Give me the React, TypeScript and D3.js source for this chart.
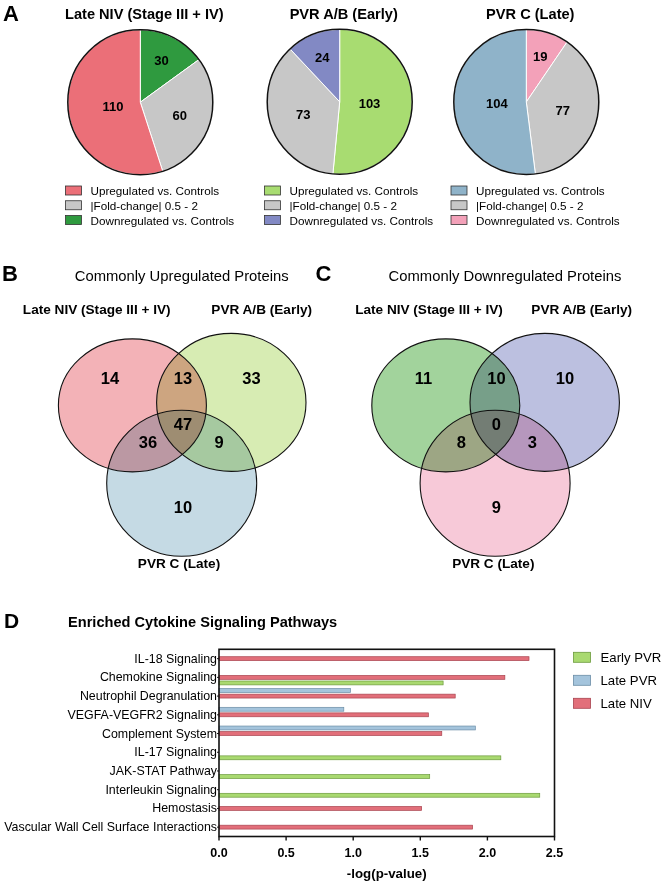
import React from 'react';
import * as d3 from 'd3';

// ---- Panel A: pie charts ----
const pieCategories = ['Upregulated vs. Controls', '|Fold-change| 0.5 - 2', 'Downregulated vs. Controls'];
const pieTitles = ['Late NIV (Stage III + IV)', 'PVR A/B (Early)', 'PVR C (Late)'];
const lateNivCounts = [110, 60, 30];
const earlyPvrCounts = [103, 73, 24];
const latePvrCounts = [104, 77, 19];

// ---- Panels B / C: Venn diagrams ----
const vennSets = ['Late NIV (Stage III + IV)', 'PVR A/B (Early)', 'PVR C (Late)'];
// regions: only NIV, NIV&Early, only Early, all three, NIV&Late, Early&Late, only Late
const upRegionCounts = [14, 13, 33, 47, 36, 9, 10];
const downRegionCounts = [11, 10, 10, 0, 8, 3, 9];

// ---- Panel D: pathway bars ----
const pathways = [
  'IL-18 Signaling',
  'Chemokine Signaling',
  'Neutrophil Degranulation',
  'VEGFA-VEGFR2 Signaling',
  'Complement System',
  'IL-17 Signaling',
  'JAK-STAT Pathway',
  'Interleukin Signaling',
  'Hemostasis',
  'Vascular Wall Cell Surface Interactions',
];
const barSeries = ['Late PVR', 'Late NIV', 'Early PVR'];
const legendSeries = ['Early PVR', 'Late PVR', 'Late NIV'];
const latePvrValues = [null, null, 0.98, 0.93, 1.91, null, null, null, null, null];
const lateNivValues = [2.31, 2.13, 1.76, 1.56, 1.66, null, null, null, 1.51, 1.89];
const earlyPvrValues = [null, 1.67, null, null, null, 2.1, 1.57, 2.39, null, null];
const xTicks = [0, 0.5, 1, 1.5, 2, 2.5];

const FONT = '"Liberation Sans", Arial, Helvetica, sans-serif';

const barColors: Record<string, { fill: string; stroke: string }> = {
  'Early PVR': { fill: '#a9d970', stroke: '#6c9a3c' },
  'Late PVR': { fill: '#a4c4dc', stroke: '#6b8da6' },
  'Late NIV': { fill: '#e26f7a', stroke: '#a9434f' },
};

interface PieProps {
  cx: number;
  cy: number;
  title: string;
  counts: number[];
  order: number[];
  colors: string[];
  legendX: number;
}

const Pie: React.FC<PieProps> = ({ cx, cy, title, counts, order, colors, legendX }) => {
  const r = 72.5;
  const data = order.map((i) => ({ idx: i, value: counts[i] }));
  const pie = d3.pie<any>().value((d) => d.value).sort(null);
  const arcs = pie(data);
  const arc = d3.arc<any>().innerRadius(0).outerRadius(r);
  // label at the area centroid of each sector
  const labelPos = (a: d3.PieArcDatum<any>) => {
    const theta = a.endAngle - a.startAngle;
    const mid = (a.startAngle + a.endAngle) / 2;
    const dist = (4 * r * Math.sin(theta / 2)) / (3 * theta);
    return [dist * Math.sin(mid), -dist * Math.cos(mid)];
  };
  const legendY = d3.scalePoint<number>().domain([0, 1, 2]).range([190.5, 220]);
  return (
    <g>
      <text x={cx + 4} y={19} textAnchor="middle" fontFamily={FONT} fontWeight="bold" fontSize={14.6}>
        {title}
      </text>
      <g transform={`translate(${cx},${cy})`}>
        {arcs.map((a, k) => (
          <path key={k} d={arc(a) as string} fill={colors[a.data.idx]} stroke="#ffffff" strokeWidth={1} />
        ))}
        <circle r={r} fill="none" stroke="#111" strokeWidth={1.5} />
        {arcs.map((a, k) => {
          const [lx, ly] = labelPos(a);
          return (
            <text key={k} x={lx} y={ly} textAnchor="middle" dominantBaseline="central"
              fontFamily={FONT} fontWeight="bold" fontSize={13}>
              {a.data.value}
            </text>
          );
        })}
      </g>
      {pieCategories.map((c, i) => (
        <g key={c}>
          <rect x={legendX} y={legendY(i)! - 4.5} width={16} height={9} fill={colors[i]} stroke="#333" strokeWidth={0.8} />
          <text x={legendX + 25} y={legendY(i)!} dominantBaseline="central" fontFamily={FONT} fontSize={11.7}>
            {c}
          </text>
        </g>
      ))}
    </g>
  );
};

interface VennProps {
  dx: number;
  letter: string;
  title: string;
  titleX: number;
  setLabelX: number[];
  counts: number[];
  colors: string[];
}

// circle geometry (panel-local) and region label anchors
const vennCircles = [
  { cx: 132.4, cy: 405.4, rx: 74, ry: 66.5 },
  { cx: 231.3, cy: 402.4, rx: 74.7, ry: 69 },
  { cx: 181.7, cy: 483.3, rx: 75, ry: 73 },
];
const vennAnchors = [
  [110, 378], [183, 378], [251.5, 378], [183, 424], [148, 442], [219, 442], [183, 506.5],
];

const Venn: React.FC<VennProps> = ({ dx, letter, title, titleX, setLabelX, counts, colors }) => (
  <g transform={`translate(${dx},0)`}>
    <text x={2} y={281} fontFamily={FONT} fontWeight="bold" fontSize={22}>{letter}</text>
    <text x={titleX} y={281} textAnchor="middle" fontFamily={FONT} fontSize={14.8}>{title}</text>
    <text x={setLabelX[0]} y={314} textAnchor="middle" fontFamily={FONT} fontWeight="bold" fontSize={13.6}>{vennSets[0]}</text>
    <text x={setLabelX[1]} y={314} textAnchor="middle" fontFamily={FONT} fontWeight="bold" fontSize={13.6}>{vennSets[1]}</text>
    <text x={setLabelX[2]} y={568} textAnchor="middle" fontFamily={FONT} fontWeight="bold" fontSize={13.6}>{vennSets[2]}</text>
    <g style={{ isolation: 'isolate' }}>
      {vennCircles.map((c, i) => (
        <ellipse key={i} cx={c.cx} cy={c.cy} rx={c.rx} ry={c.ry} fill={colors[i]} style={{ mixBlendMode: 'multiply' }} />
      ))}
    </g>
    {vennCircles.map((c, i) => (
      <ellipse key={i} cx={c.cx} cy={c.cy} rx={c.rx} ry={c.ry} fill="none" stroke="#111" strokeWidth={1.1} />
    ))}
    {counts.map((v, i) => (
      <text key={i} x={vennAnchors[i][0]} y={vennAnchors[i][1]} textAnchor="middle" dominantBaseline="central"
        fontFamily={FONT} fontWeight="bold" fontSize={16.5}>
        {v}
      </text>
    ))}
  </g>
);

const BarChart: React.FC = () => {
  const left = 219;
  const right = 554.5;
  const top = 649.3;
  const bottom = 836.5;
  const x = d3.scaleLinear().domain([0, 2.5]).range([left, right]);
  const y = d3.scaleBand<string>().domain(pathways).range([top, bottom]);
  const inner = d3.scaleBand<string>().domain(barSeries).range([-7.5, 7.5]).paddingInner(0.3);
  const seriesValues: Record<string, (number | null)[]> = {
    'Late PVR': latePvrValues,
    'Late NIV': lateNivValues,
    'Early PVR': earlyPvrValues,
  };
  const legendY = d3.scalePoint<string>().domain(legendSeries).range([657.3, 703.3]);
  return (
    <g fontFamily={FONT}>
      <text x={4} y={628} fontWeight="bold" fontSize={21}>D</text>
      <text x={68} y={627} fontWeight="bold" fontSize={14.6}>Enriched Cytokine Signaling Pathways</text>
      {barSeries.map((s) =>
        seriesValues[s].map((v, i) =>
          v == null ? null : (
            <rect key={s + i} x={x(0)} y={y(pathways[i])! + y.bandwidth() / 2 + inner(s)!}
              width={x(v) - x(0)} height={inner.bandwidth()}
              fill={barColors[s].fill} stroke={barColors[s].stroke} strokeWidth={0.7} />
          )
        )
      )}
      <rect x={left} y={top} width={right - left} height={bottom - top} fill="none" stroke="#111" strokeWidth={1.6} />
      {pathways.map((p) => {
        const cy = y(p)! + y.bandwidth() / 2;
        return (
          <g key={p}>
            <line x1={left - 2} x2={left} y1={cy} y2={cy} stroke="#111" strokeWidth={1} />
            <text x={left - 2} y={cy} textAnchor="end" dominantBaseline="central" fontSize={12.4}>{p}</text>
          </g>
        );
      })}
      {xTicks.map((t) => (
        <g key={t}>
          <line x1={x(t)} x2={x(t)} y1={bottom} y2={bottom + 4} stroke="#111" strokeWidth={1.4} />
          <text x={x(t)} y={853} textAnchor="middle" dominantBaseline="central" fontWeight="bold" fontSize={12.5}>
            {d3.format('.1f')(t)}
          </text>
        </g>
      ))}
      <text x={(left + right) / 2} y={873} textAnchor="middle" dominantBaseline="central" fontWeight="bold" fontSize={13.3}>
        -log(p-value)
      </text>
      {legendSeries.map((s) => (
        <g key={s}>
          <rect x={573.5} y={legendY(s)! - 5} width={17} height={10} fill={barColors[s].fill} stroke={barColors[s].stroke} strokeWidth={0.8} />
          <text x={600.5} y={legendY(s)!} dominantBaseline="central" fontSize={13.2}>{s}</text>
        </g>
      ))}
    </g>
  );
};

export default function App() {
  return (
    <svg width={664} height={883} style={{ position: 'absolute', left: 0, top: 0, background: '#fff' }}>
      <rect width={664} height={883} fill="#fff" />
      <text x={3} y={21} fontFamily={FONT} fontWeight="bold" fontSize={22}>A</text>
      <Pie cx={140.3} cy={102.2} title={pieTitles[0]} counts={lateNivCounts} order={[2, 1, 0]}
        colors={['#eb6f78', '#c7c7c7', '#2f9a3f']} legendX={65.5} />
      <Pie cx={339.7} cy={101.8} title={pieTitles[1]} counts={earlyPvrCounts} order={[0, 1, 2]}
        colors={['#a8dc71', '#c7c7c7', '#8289c4']} legendX={264.5} />
      <Pie cx={526.3} cy={102} title={pieTitles[2]} counts={latePvrCounts} order={[2, 1, 0]}
        colors={['#8fb3c9', '#c7c7c7', '#f3a1b9']} legendX={451} />
      <Venn dx={0} letter="B" title="Commonly Upregulated Proteins" titleX={181.7}
        setLabelX={[96.7, 261.7, 179]} counts={upRegionCounts}
        colors={['#f3b2b7', '#d7ecb3', '#c5dae4']} />
      <Venn dx={313.4} letter="C" title="Commonly Downregulated Proteins" titleX={191.6}
        setLabelX={[115.6, 268.3, 179.9]} counts={downRegionCounts}
        colors={['#a2d39c', '#bcc0e0', '#f7c9d8']} />
      <BarChart />
    </svg>
  );
}
